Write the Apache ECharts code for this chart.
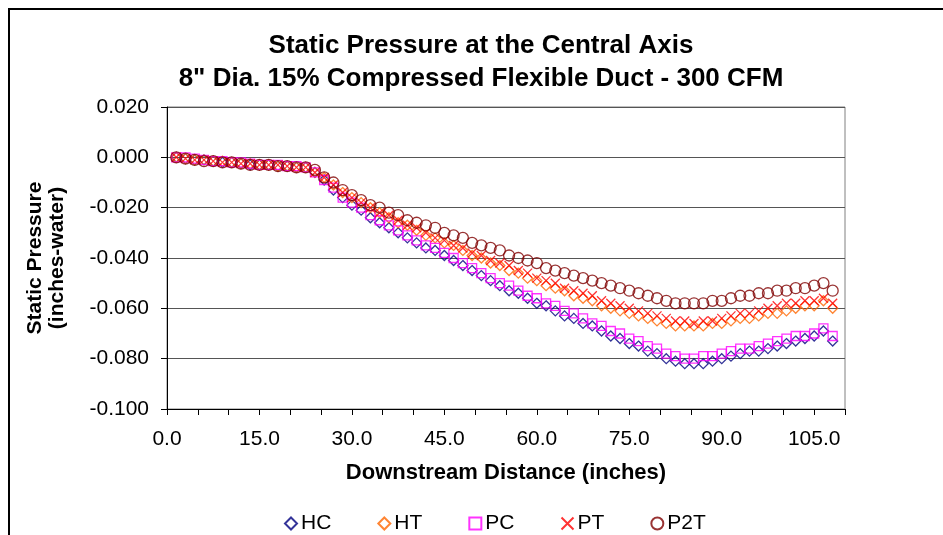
<!DOCTYPE html>
<html>
<head>
<meta charset="utf-8">
<script src="https://cdn.jsdelivr.net/npm/echarts@6/dist/echarts.min.js"></script>
<style>html,body{margin:0;padding:0;background:#fff}#c{width:943px;height:535px}</style>
</head>
<body>
<div id="c"></div>
<script>
// Downstream distance (inches)
var distance = [1.5,3,4.5,6,7.5,9,10.5,12,13.5,15,16.5,18,19.5,21,22.5,24,25.5,27,28.5,30,31.5,33,34.5,36,37.5,39,40.5,42,43.5,45,46.5,48,49.5,51,52.5,54,55.5,57,58.5,60,61.5,63,64.5,66,67.5,69,70.5,72,73.5,75,76.5,78,79.5,81,82.5,84,85.5,87,88.5,90,91.5,93,94.5,96,97.5,99,100.5,102,103.5,105,106.5,108];

var HC = [0.000,-0.0005,-0.001,-0.001,-0.0015,-0.002,-0.002,-0.0025,-0.003,-0.003,-0.003,-0.0035,-0.0035,-0.004,-0.004,-0.006,-0.009,-0.013,-0.016,-0.019,-0.021,-0.024,-0.026,-0.028,-0.030,-0.032,-0.034,-0.036,-0.037,-0.039,-0.041,-0.043,-0.045,-0.047,-0.049,-0.051,-0.053,-0.054,-0.056,-0.058,-0.059,-0.061,-0.063,-0.064,-0.066,-0.067,-0.069,-0.071,-0.072,-0.074,-0.075,-0.077,-0.078,-0.080,-0.081,-0.082,-0.082,-0.082,-0.081,-0.080,-0.079,-0.078,-0.077,-0.077,-0.076,-0.075,-0.074,-0.073,-0.072,-0.071,-0.069,-0.073];

var HT = [0.000,-0.0005,-0.001,-0.001,-0.0015,-0.0015,-0.002,-0.0025,-0.0025,-0.003,-0.003,-0.0035,-0.0035,-0.004,-0.004,-0.006,-0.008,-0.011,-0.014,-0.016,-0.018,-0.020,-0.022,-0.024,-0.026,-0.027,-0.029,-0.031,-0.032,-0.034,-0.035,-0.037,-0.039,-0.040,-0.042,-0.043,-0.045,-0.046,-0.048,-0.049,-0.051,-0.052,-0.053,-0.055,-0.056,-0.057,-0.059,-0.060,-0.061,-0.062,-0.063,-0.064,-0.065,-0.066,-0.067,-0.067,-0.067,-0.067,-0.066,-0.066,-0.065,-0.064,-0.064,-0.063,-0.062,-0.062,-0.061,-0.060,-0.059,-0.059,-0.057,-0.060];

var PC = [0.000,0.000,-0.0005,-0.001,-0.0015,-0.0015,-0.002,-0.002,-0.0025,-0.003,-0.003,-0.003,-0.0035,-0.0035,-0.004,-0.006,-0.009,-0.012,-0.016,-0.018,-0.020,-0.023,-0.025,-0.027,-0.029,-0.031,-0.033,-0.035,-0.036,-0.038,-0.040,-0.042,-0.044,-0.046,-0.048,-0.050,-0.051,-0.053,-0.055,-0.056,-0.058,-0.059,-0.061,-0.062,-0.064,-0.066,-0.067,-0.069,-0.070,-0.072,-0.073,-0.075,-0.076,-0.078,-0.079,-0.080,-0.080,-0.079,-0.079,-0.078,-0.077,-0.076,-0.076,-0.075,-0.074,-0.073,-0.072,-0.071,-0.071,-0.070,-0.068,-0.071];

var PT = [0.000,-0.0005,-0.001,-0.001,-0.0015,-0.002,-0.002,-0.0025,-0.0025,-0.003,-0.003,-0.003,-0.0035,-0.004,-0.004,-0.006,-0.008,-0.011,-0.014,-0.016,-0.018,-0.020,-0.022,-0.023,-0.025,-0.027,-0.028,-0.030,-0.032,-0.033,-0.035,-0.036,-0.038,-0.039,-0.041,-0.042,-0.043,-0.045,-0.046,-0.048,-0.049,-0.050,-0.052,-0.053,-0.054,-0.055,-0.057,-0.058,-0.059,-0.060,-0.061,-0.062,-0.063,-0.064,-0.065,-0.065,-0.066,-0.065,-0.065,-0.064,-0.063,-0.062,-0.062,-0.061,-0.060,-0.059,-0.058,-0.058,-0.057,-0.057,-0.056,-0.058];

var P2T = [0.000,-0.0005,-0.001,-0.0015,-0.0015,-0.002,-0.002,-0.0025,-0.003,-0.003,-0.003,-0.0035,-0.0035,-0.004,-0.004,-0.005,-0.008,-0.010,-0.013,-0.015,-0.017,-0.019,-0.020,-0.022,-0.023,-0.025,-0.026,-0.027,-0.028,-0.030,-0.031,-0.032,-0.034,-0.035,-0.036,-0.037,-0.039,-0.040,-0.041,-0.042,-0.044,-0.045,-0.046,-0.047,-0.048,-0.049,-0.050,-0.051,-0.052,-0.053,-0.054,-0.055,-0.056,-0.057,-0.058,-0.058,-0.058,-0.058,-0.057,-0.057,-0.056,-0.055,-0.055,-0.054,-0.054,-0.053,-0.053,-0.052,-0.052,-0.051,-0.050,-0.053];

var seriesNames = ['HC','HT','PC','PT','P2T'];
var seriesValues = [HC, HT, PC, PT, P2T];
var seriesColors = ['#000080','#FF6600','#FF00FF','#FF0000','#800000'];
var seriesSymbols = ['diamond','diamond','rect','path://M0,0L10,10M10,0L0,10','circle'];
var seriesSizes = [10, 10, 9, 9, 11];

var FONT = 'Liberation Sans, Arial, sans-serif';

function pairs(xs, ys){ return xs.map(function(x,i){ return [x, ys[i]]; }); }

var series = seriesNames.map(function(n, k){
  return {
    name: n,
    type: 'scatter',
    data: pairs(distance, seriesValues[k]),
    symbol: seriesSymbols[k],
    symbolSize: seriesSizes[k],
    itemStyle: { color: 'rgba(0,0,0,0)', borderColor: seriesColors[k], borderWidth: 1.3 },
    emphasis: { disabled: true },
    animation: false
  };
});

var chart = echarts.init(document.getElementById('c'), null, { renderer: 'canvas' });
chart.setOption({
  animation: false,
  backgroundColor: '#fff',
  title: {
    text: 'Static Pressure at the Central Axis\n8" Dia. 15% Compressed Flexible Duct - 300 CFM',
    left: 476, top: 24, textAlign: 'center',
    textStyle: { fontFamily: FONT, fontSize: 26, fontWeight: 'bold', color: '#000', lineHeight: 33 }
  },
  graphic: [{
    type: 'rect', silent: true,
    shape: { x: 9, y: 9, width: 1000, height: 1000 },
    style: { fill: 'none', stroke: '#000', lineWidth: 2 }
  }],
  legend: {
    data: seriesNames,
    left: 279, top: 508,
    itemWidth: 12, itemHeight: 12, itemGap: 46,
    textStyle: { fontFamily: FONT, fontSize: 21, color: '#000', padding: [0,0,0,-1] }
  },
  grid: { left: 167, right: 98, top: 107, bottom: 126, show: true, borderColor: '#808080', borderWidth: 1, backgroundColor: 'transparent' },
  xAxis: {
    type: 'value', min: 0, max: 110, interval: 5,
    name: 'Downstream Distance (inches)', nameLocation: 'middle', nameGap: 53,
    nameTextStyle: { fontFamily: FONT, fontSize: 22, fontWeight: 'bold', color: '#000' },
    axisLine: { show: true, onZero: false, lineStyle: { color: '#000', width: 1 } },
    axisTick: { show: true, inside: false, length: 6, lineStyle: { color: '#000' } },
    splitLine: { show: false },
    axisLabel: {
      fontFamily: FONT, fontSize: 21, color: '#000', margin: 20,
      formatter: function(v){ return (Math.round(v) % 15 === 0) ? v.toFixed(1) : ''; }
    }
  },
  yAxis: {
    type: 'value', min: -0.1, max: 0.02, interval: 0.02,
    name: 'Static Pressure\n(inches-water)', nameLocation: 'middle', nameGap: 99, nameRotate: 90,
    nameTextStyle: { fontFamily: FONT, fontSize: 21, fontWeight: 'bold', color: '#000', lineHeight: 22 },
    axisLine: { show: true, onZero: false, lineStyle: { color: '#000', width: 1 } },
    axisTick: { show: true, inside: false, length: 6, lineStyle: { color: '#000' } },
    splitLine: { show: true, lineStyle: { color: '#555', width: 1 } },
    axisLabel: {
      fontFamily: FONT, fontSize: 21, color: '#000', margin: 18,
      formatter: function(v){ return v.toFixed(3); }
    }
  },
  series: series
});
</script>
</body>
</html>
